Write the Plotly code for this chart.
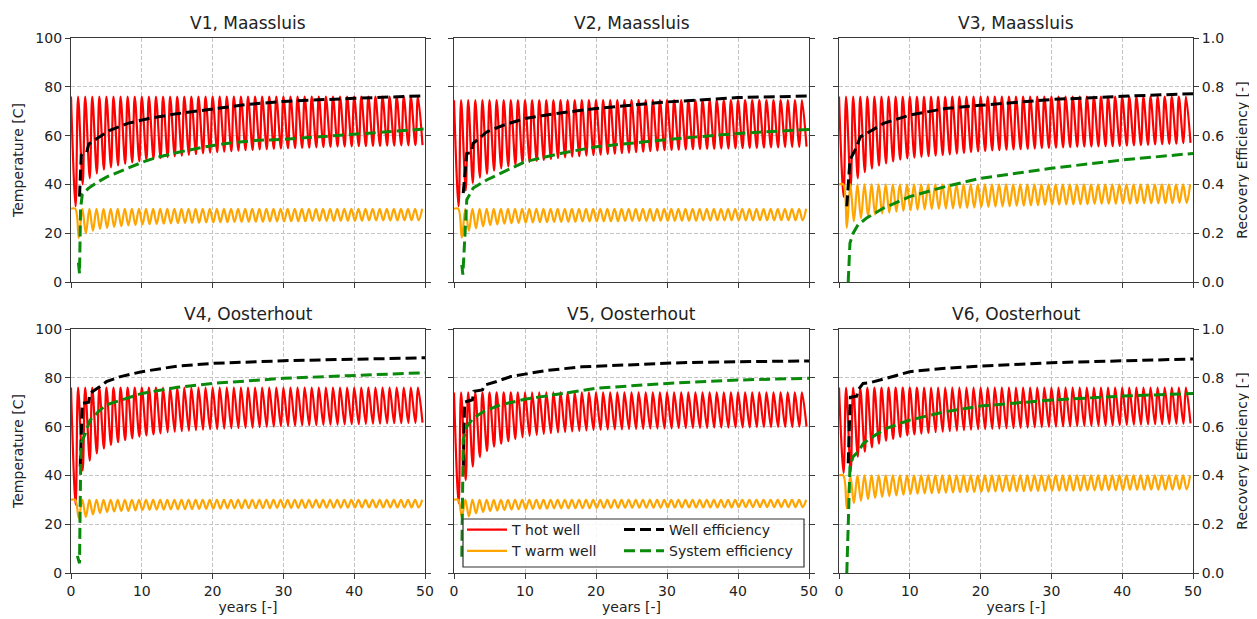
import plotly.graph_objects as go

# ---------------- data ----------------
titles = ["V1, Maassluis", "V2, Maassluis", "V3, Maassluis",
          "V4, Oosterhout", "V5, Oosterhout", "V6, Oosterhout"]

hot_peak = [76, 74.5, 76, 76, 74, 76]
warm_peak = [30, 30, 40, 30, 30, 40]

hot_trough_v1 = [31, 40, 42.5, 44.5, 46, 47, 47.8, 48.4, 49, 49.5, 50, 50.4, 50.8, 51.2, 51.5, 51.8, 52.1, 52.4, 52.7, 53,
                 53.2, 53.4, 53.6, 53.8, 54, 54.1, 54.3, 54.4, 54.6, 54.7, 54.8, 54.9, 55, 55.1, 55.2, 55.3, 55.4, 55.5, 55.5, 55.6,
                 55.7, 55.7, 55.8, 55.8, 55.9, 55.9, 56, 56, 56.1, 56.1]
hot_trough_v2 = [31, 37.5, 40.5, 42.8, 44.3, 45.6, 46.6, 47.4, 48.1, 48.7, 49.2, 49.6, 50, 50.4, 50.8, 51.1, 51.4, 51.6, 51.8, 52,
                 52.2, 52.4, 52.6, 52.8, 53, 53.2, 53.4, 53.6, 53.8, 54, 54.1, 54.2, 54.3, 54.4, 54.5, 54.6, 54.6, 54.7, 54.7, 54.8,
                 54.9, 55, 55, 55.1, 55.2, 55.2, 55.3, 55.4, 55.4, 55.5]
hot_trough_v3 = [35, 39, 42.5, 45, 46.5, 47.7, 48.6, 49.4, 50.1, 50.7, 51, 51.3, 51.6, 51.8, 52, 52.3, 52.6, 52.9, 53.2, 53.5,
                 53.7, 53.9, 54, 54.2, 54.3, 54.4, 54.6, 54.7, 54.9, 55, 55.1, 55.2, 55.3, 55.4, 55.5, 55.5, 55.6, 55.7, 55.7, 55.8,
                 55.9, 56, 56.1, 56.2, 56.4, 56.5, 56.6, 56.7, 56.9, 57]
hot_trough_v4 = [28, 42, 46, 49, 51, 52.5, 53.6, 54.5, 55.2, 55.9, 56.4, 56.8, 57.2, 57.6, 57.9, 58.1, 58.3, 58.5, 58.7, 58.9,
                 59, 59.2, 59.3, 59.4, 59.5, 59.6, 59.8, 59.9, 60, 60.2, 60.3, 60.4, 60.5, 60.5, 60.6, 60.7, 60.8, 60.8, 60.9, 61,
                 61, 61.1, 61.2, 61.2, 61.3, 61.4, 61.4, 61.5, 61.5, 61.6]
hot_trough_v5 = [28.6, 38, 43.6, 47.5, 50, 51.8, 53, 54, 54.9, 55.6, 56.2, 56.6, 57, 57.3, 57.6, 57.8, 58, 58.2, 58.4, 58.6,
                 58.7, 58.8, 58.9, 58.9, 59, 59.1, 59.1, 59.2, 59.2, 59.3, 59.3, 59.4, 59.4, 59.5, 59.5, 59.5, 59.6, 59.6, 59.6, 59.7,
                 59.7, 59.7, 59.8, 59.8, 59.8, 59.9, 59.9, 59.9, 60, 60]
hot_trough_v6 = [41, 41.5, 47.7, 49.7, 51.5, 53, 54.2, 55, 55.8, 56.4, 56.8, 57.1, 57.4, 57.7, 57.9, 58.1, 58.3, 58.5, 58.7, 58.9,
                 59, 59.1, 59.2, 59.3, 59.4, 59.5, 59.6, 59.7, 59.8, 59.9, 60, 60.1, 60.1, 60.2, 60.3, 60.3, 60.4, 60.5, 60.5, 60.6,
                 60.7, 60.8, 60.8, 60.9, 61, 61, 61.1, 61.2, 61.2, 61.3]

warm_trough_v1 = [18, 20, 21, 21.7, 22.2, 22.6, 22.9, 23.2, 23.4, 23.6, 23.7, 23.8, 23.9, 24, 24.1, 24.2, 24.3, 24.3, 24.4, 24.4,
                  24.5, 24.5, 24.6, 24.6, 24.7, 24.7, 24.7, 24.8, 24.8, 24.8, 24.9, 24.9, 24.9, 25, 25, 25, 25, 25.1, 25.1, 25.1,
                  25.1, 25.2, 25.2, 25.2, 25.2, 25.2, 25.3, 25.3, 25.3]
warm_trough_v2 = [18.2, 21, 22, 22.8, 23.3, 23.6, 23.9, 24.1, 24.2, 24.3, 24.4, 24.5, 24.5, 24.6, 24.6, 24.7, 24.7, 24.8, 24.8, 24.8,
                  24.9, 24.9, 24.9, 25, 25, 25, 25, 25, 25.1, 25.1, 25.1, 25.1, 25.1, 25.1, 25.2, 25.2, 25.2, 25.2, 25.2, 25.2,
                  25.2, 25.2, 25.3, 25.3, 25.3, 25.3, 25.3, 25.3, 25.3]
warm_trough_v3 = [22.2, 24.9, 26.2, 27, 27.6, 28.1, 28.4, 28.8, 29.1, 29.4, 29.6, 29.8, 29.9, 30, 30.1, 30.2, 30.3, 30.4, 30.5, 30.7,
                  30.8, 30.9, 31, 31.1, 31.2, 31.3, 31.4, 31.5, 31.6, 31.7, 31.7, 31.8, 31.8, 31.9, 31.9, 32, 32, 32, 32.1, 32.1,
                  32.1, 32.2, 32.2, 32.2, 32.3, 32.3, 32.3, 32.4, 32.4]
warm_trough_v4 = [22.5, 23, 24, 24.6, 25, 25.2, 25.4, 25.5, 25.7, 25.8, 25.9, 26, 26, 26.1, 26.1, 26.2, 26.2, 26.3, 26.3, 26.4,
                  26.4, 26.5, 26.5, 26.5, 26.6, 26.6, 26.6, 26.6, 26.7, 26.7, 26.7, 26.7, 26.7, 26.8, 26.8, 26.8, 26.8, 26.8, 26.8, 26.9,
                  26.9, 26.9, 26.9, 26.9, 26.9, 26.9, 26.9, 26.9, 26.9]
warm_trough_v5 = [23, 23.2, 24.5, 25, 25.4, 25.6, 25.8, 26, 26.1, 26.2, 26.3, 26.4, 26.4, 26.5, 26.5, 26.5, 26.6, 26.6, 26.6, 26.7,
                  26.7, 26.7, 26.7, 26.8, 26.8, 26.8, 26.8, 26.8, 26.8, 26.9, 26.9, 26.9, 26.9, 26.9, 26.9, 26.9, 26.9, 26.9, 26.9, 27,
                  27, 27, 27, 27, 27, 27, 27, 27, 27]
warm_trough_v6 = [26.5, 28.6, 29.6, 30.3, 30.8, 31.2, 31.5, 31.8, 32.1, 32.4, 32.5, 32.6, 32.7, 32.8, 32.9, 33, 33.1, 33.2, 33.2, 33.3,
                  33.3, 33.4, 33.4, 33.5, 33.5, 33.5, 33.6, 33.6, 33.6, 33.7, 33.7, 33.8, 33.8, 33.8, 33.9, 33.9, 33.9, 34, 34, 34,
                  34.1, 34.1, 34.1, 34.2, 34.2, 34.2, 34.2, 34.3, 34.3]

# efficiency curves (years, fraction)
well_x_v1 = [1.2, 1.45, 2.2, 2.5, 3.5, 5.5, 8, 11, 15, 20, 25, 30, 35, 40, 45, 50]
well_y_v1 = [0.35, 0.52, 0.53, 0.565, 0.585, 0.622, 0.65, 0.67, 0.69, 0.71, 0.728, 0.74, 0.748, 0.753, 0.758, 0.763]
sys_x_v1 = [1.05, 1.2, 1.35, 1.6, 2.5, 3.5, 5, 7.5, 10, 12, 15.5, 19, 22, 26, 30, 35, 40, 45, 50]
sys_y_v1 = [0.08, 0.035, 0.3, 0.36, 0.385, 0.405, 0.43, 0.46, 0.49, 0.51, 0.534, 0.554, 0.568, 0.58, 0.585, 0.595, 0.605, 0.617, 0.627]

well_x_v2 = [1.3, 1.8, 2.4, 2.7, 4.6, 7, 10, 15, 20, 30, 40, 50]
well_y_v2 = [0.364, 0.527, 0.53, 0.568, 0.615, 0.643, 0.67, 0.693, 0.711, 0.738, 0.756, 0.762]
sys_x_v2 = [1.1, 1.25, 1.8, 2.7, 4.6, 7, 10, 15, 20, 30, 40, 50]
sys_y_v2 = [0.07, 0.03, 0.337, 0.385, 0.418, 0.452, 0.493, 0.527, 0.554, 0.584, 0.609, 0.625]

well_x_v3 = [1.1, 1.55, 2.5, 3.0, 3.9, 6.3, 10, 15, 20, 30, 40, 50]
well_y_v3 = [0.31, 0.50, 0.554, 0.595, 0.609, 0.65, 0.684, 0.711, 0.724, 0.748, 0.761, 0.772]
sys_x_v3 = [1.3, 1.55, 2, 2.7, 3.9, 6.3, 10, 15, 20, 30, 40, 50]
sys_y_v3 = [0.0, 0.16, 0.2, 0.235, 0.262, 0.303, 0.35, 0.391, 0.425, 0.466, 0.50, 0.527]

well_x_v4 = [1.3, 1.6, 2.5, 2.7, 4.1, 5, 7, 10, 15, 20, 30, 40, 50]
well_y_v4 = [0.436, 0.695, 0.70, 0.737, 0.764, 0.784, 0.805, 0.825, 0.848, 0.859, 0.87, 0.877, 0.882]
sys_x_v4 = [0.9, 1.2, 1.4, 2, 2.7, 4.1, 5, 7, 10, 15, 20, 30, 40, 50]
sys_y_v4 = [0.07, 0.04, 0.53, 0.57, 0.627, 0.668, 0.689, 0.709, 0.736, 0.761, 0.777, 0.798, 0.811, 0.821]

well_x_v5 = [1.3, 1.5, 2.6, 2.8, 4, 4.3, 6, 8, 10, 13, 18, 25, 32, 40, 50]
well_y_v5 = [0.44, 0.70, 0.71, 0.745, 0.75, 0.77, 0.785, 0.805, 0.815, 0.83, 0.845, 0.855, 0.862, 0.866, 0.869]
sys_x_v5 = [1.1, 1.3, 1.8, 2.7, 4.1, 6.5, 10, 15, 20, 30, 40, 50]
sys_y_v5 = [0.067, 0.545, 0.60, 0.634, 0.661, 0.689, 0.712, 0.736, 0.757, 0.777, 0.791, 0.798]

well_x_v6 = [1.3, 1.6, 2.5, 2.7, 3.4, 4.4, 6.7, 10, 15, 20, 30, 40, 50]
well_y_v6 = [0.45, 0.72, 0.725, 0.75, 0.777, 0.78, 0.798, 0.825, 0.839, 0.848, 0.862, 0.87, 0.877]
sys_x_v6 = [1.1, 1.55, 2, 2.7, 3.4, 4.4, 6.7, 10, 15, 20, 30, 40, 50]
sys_y_v6 = [0.0, 0.436, 0.477, 0.497, 0.53, 0.552, 0.593, 0.627, 0.661, 0.684, 0.709, 0.725, 0.736]

temp_ticks = [0, 20, 40, 60, 80, 100]
eff_ticks = [0.0, 0.2, 0.4, 0.6, 0.8, 1.0]
year_ticks = [0, 10, 20, 30, 40, 50]

hot_troughs = [hot_trough_v1, hot_trough_v2, hot_trough_v3, hot_trough_v4, hot_trough_v5, hot_trough_v6]
warm_troughs = [warm_trough_v1, warm_trough_v2, warm_trough_v3, warm_trough_v4, warm_trough_v5, warm_trough_v6]
well_xs = [well_x_v1, well_x_v2, well_x_v3, well_x_v4, well_x_v5, well_x_v6]
well_ys = [well_y_v1, well_y_v2, well_y_v3, well_y_v4, well_y_v5, well_y_v6]
sys_xs = [sys_x_v1, sys_x_v2, sys_x_v3, sys_x_v4, sys_x_v5, sys_x_v6]
sys_ys = [sys_y_v1, sys_y_v2, sys_y_v3, sys_y_v4, sys_y_v5, sys_y_v6]


def hot_series(peak, troughs):
    t, v = [], []
    for k, tr in enumerate(troughs):
        t += [k, k + 0.65]
        v += [peak, tr]
    return t, v


def warm_series(peak, troughs):
    t, v = [0.0], [peak]
    for k, tr in enumerate(troughs, start=1):
        t += [k - 0.4, k + 0.1]
        v += [peak, tr]
    t.append(len(troughs) + 0.6)
    v.append(peak)
    return t, v


# ---------------- layout geometry ----------------
# page body has an 8px margin, so figure pixel = reference pixel - 8
OFF = 8
W, H = 1257 - OFF, 619 - OFF
col_px = [(71 - OFF, 425 - OFF), (454 - OFF, 809 - OFF), (839 - OFF, 1193 - OFF)]
row_px = [(38 - OFF, 282 - OFF), (329 - OFF, 573 - OFF)]
ML, MT = col_px[0][0], row_px[0][0]
MR, MB = W - col_px[2][1], H - row_px[1][1]
PW, PH = W - ML - MR, H - MT - MB
col_dom = [[(a - ML) / PW, (b - ML) / PW] for a, b in col_px]
row_dom = [[(H - MB - b) / PH, (H - MB - a) / PH] for a, b in row_px]


def px_x(p):
    return (p - OFF - ML) / PW


def px_y(p):
    return (H - MB - (p - OFF)) / PH


FONT = "DejaVu Sans"
TXT = "#222222"
AX = "#3a3a3a"
GRID = "#c4c4c4"

RED = "#ff0000"
ORANGE = "#ffa500"
BLACK = "#000000"
GREEN = "#0a8a0a"
DASH = "11px,5px"

fig = go.Figure()
layout = {}

for i in range(6):
    r, c = divmod(i, 3)
    xid = "x" if i == 0 else f"x{i + 1}"
    yl = "y" if i == 0 else f"y{2 * i + 1}"
    yr = f"y{2 * i + 2}"
    xkey = "xaxis" if i == 0 else f"xaxis{i + 1}"
    ylkey = "yaxis" if i == 0 else f"yaxis{2 * i + 1}"
    yrkey = f"yaxis{2 * i + 2}"

    first = (i == 0)
    ht, hv = hot_series(hot_peak[i], hot_troughs[i])
    wt, wv = warm_series(warm_peak[i], warm_troughs[i])
    fig.add_trace(go.Scatter(x=ht, y=hv, xaxis=xid, yaxis=yl, mode="lines",
                             line=dict(color=RED, width=2.2, shape="spline", smoothing=1),
                             name="T hot well",
                             showlegend=first, legend="legend", legendrank=1))
    fig.add_trace(go.Scatter(x=wt, y=wv, xaxis=xid, yaxis=yl, mode="lines",
                             line=dict(color=ORANGE, width=2.2, shape="spline", smoothing=1),
                             name="T warm well",
                             showlegend=first, legend="legend", legendrank=2))
    fig.add_trace(go.Scatter(x=well_xs[i], y=well_ys[i], xaxis=xid, yaxis=yr, mode="lines",
                             line=dict(color=BLACK, width=3, dash=DASH), name="Well efficiency",
                             showlegend=first, legend="legend2", legendrank=3))
    fig.add_trace(go.Scatter(x=sys_xs[i], y=sys_ys[i], xaxis=xid, yaxis=yr, mode="lines",
                             line=dict(color=GREEN, width=3, dash=DASH), name="System efficiency",
                             showlegend=first, legend="legend2", legendrank=4))

    layout[xkey] = dict(
        domain=col_dom[c], anchor=yl, range=[0, 50], tickvals=year_ticks, automargin=False,
        ticks="outside", ticklen=5, tickcolor=AX, showline=True, linecolor=AX, linewidth=1.2,
        mirror=True, showgrid=True, gridcolor=GRID, griddash="4px,2px", gridwidth=0.8,
        zeroline=False, showticklabels=(r == 1),
        tickfont=dict(family=FONT, size=14, color=TXT),
        title=dict(text="years [-]" if r == 1 else "", standoff=2,
                   font=dict(family=FONT, size=14, color=TXT)),
    )
    layout[ylkey] = dict(
        domain=row_dom[r], anchor=xid, range=[0, 100], tickvals=temp_ticks, automargin=False,
        ticks="outside", ticklen=5, tickcolor=AX, showline=True, linecolor=AX, linewidth=1.2,
        mirror=True, showgrid=True, gridcolor=GRID, griddash="4px,2px", gridwidth=0.8,
        zeroline=False, showticklabels=(c == 0),
        tickfont=dict(family=FONT, size=14, color=TXT),
        title=dict(text="Temperature [C]" if c == 0 else "", standoff=8,
                   font=dict(family=FONT, size=14, color=TXT)),
    )
    layout[yrkey] = dict(
        overlaying=yl, anchor=xid, side="right", range=[0, 1], tickvals=eff_ticks, automargin=False,
        tickformat=".1f", ticks="outside", ticklen=5, tickcolor=AX, showline=False,
        showgrid=False, zeroline=False, showticklabels=(c == 2),
        tickfont=dict(family=FONT, size=14, color=TXT),
        title=dict(text="Recovery Efficiency [-]" if c == 2 else "", standoff=14,
                   font=dict(family=FONT, size=14, color=TXT)),
    )

annotations = []
for i, t in enumerate(titles):
    r, c = divmod(i, 3)
    annotations.append(dict(
        text=t, xref="paper", yref="paper",
        x=(col_dom[c][0] + col_dom[c][1]) / 2, y=row_dom[r][1],
        xanchor="center", yanchor="bottom", yshift=3, showarrow=False,
        font=dict(family=FONT, size=17, color=TXT)))

# legend frame (V5 panel), reference pixels
shapes = [dict(type="rect", xref="paper", yref="paper",
               x0=px_x(463), x1=px_x(804), y0=px_y(567), y1=px_y(519),
               line=dict(color="#333333", width=1.2), fillcolor="rgba(255,255,255,0.85)",
               layer="above")]

leg_common = dict(bgcolor="rgba(0,0,0,0)", borderwidth=0, yanchor="top", xanchor="left",
                  font=dict(family=FONT, size=14, color=TXT), tracegroupgap=0,
                  itemwidth=40)

fig.update_layout(
    width=W, height=H,
    margin=dict(l=ML, r=MR, t=MT, b=MB),
    paper_bgcolor="white", plot_bgcolor="white",
    font=dict(family=FONT, size=14, color=TXT),
    annotations=annotations, shapes=shapes,
    legend=dict(x=px_x(462), y=px_y(514), **leg_common),
    legend2=dict(x=px_x(619), y=px_y(514), **leg_common),
    **layout,
)

fig.write_html("out.html")
